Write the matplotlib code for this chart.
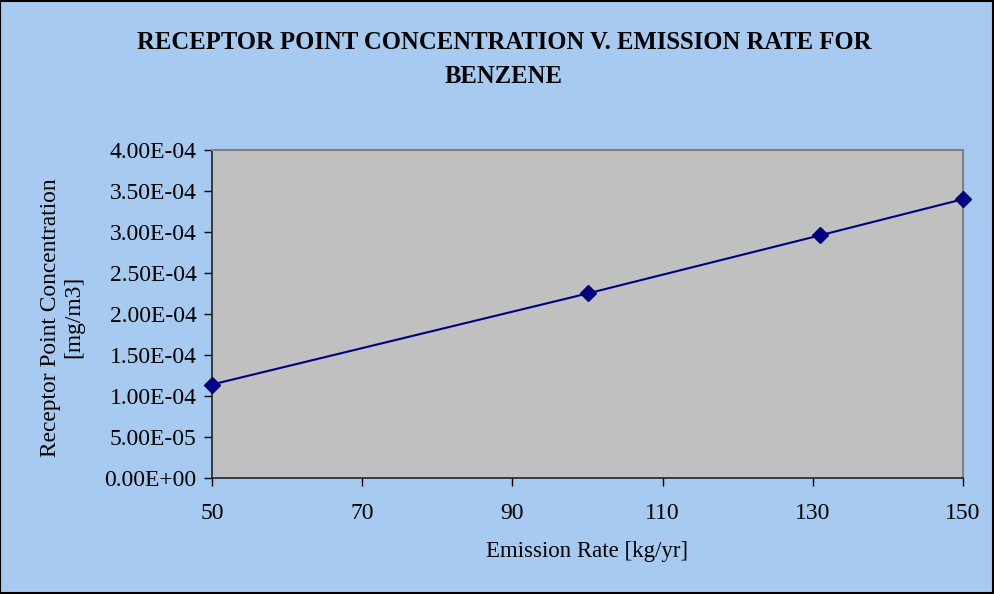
import matplotlib
matplotlib.use("Agg")
import matplotlib.pyplot as plt
from matplotlib.ticker import FuncFormatter

# data
emission_rate = [50, 100, 131, 150]
concentration = [1.14e-4, 2.25e-4, 2.96e-4, 3.40e-4]
xticks = [50, 70, 90, 110, 130, 150]
yticks = [0, 5e-5, 1e-4, 1.5e-4, 2e-4, 2.5e-4, 3e-4, 3.5e-4, 4e-4]

plt.rcParams['font.family'] = ['Liberation Serif', 'DejaVu Serif']

fig = plt.figure(figsize=(9.94, 5.94), dpi=100, facecolor='#A6CAF0')
ax = fig.add_axes([0.2133, 0.1953, 0.7555, 0.5522])
ax.set_facecolor('#C0C0C0')

ax.plot(emission_rate, concentration, color='#000080', marker='D', markersize=8.5,
        linewidth=1.5, clip_on=False, zorder=3)

ax.set_xlim(50, 150)
ax.set_ylim(0, 4e-4)
ax.set_xticks(xticks)
ax.set_yticks(yticks)
ax.yaxis.set_major_formatter(FuncFormatter(lambda v, p: f"{v:.2E}"))
ax.tick_params(direction='out', length=6, width=1, labelsize=17, colors='black', pad=5)
ax.tick_params(axis='x', pad=12)

for s in ['left', 'bottom']:
    ax.spines[s].set_color('#222222')
    ax.spines[s].set_linewidth(1.2)
for s in ['top', 'right']:
    ax.spines[s].set_color('#808080')
    ax.spines[s].set_linewidth(1.5)

fig.text(0.507, 0.929, "RECEPTOR POINT CONCENTRATION V. EMISSION RATE FOR", ha='center',
         va='center', fontsize=17.7, fontweight='bold')
fig.text(0.507, 0.872, "BENZENE", ha='center', va='center', fontsize=17.7, fontweight='bold')

ax.set_xlabel("Emission Rate [kg/yr]", fontsize=16.5, va='center')
ax.xaxis.set_label_coords(0.4993, -0.2226)
ax.set_ylabel("Receptor Point Concentration\n[mg/m3]", fontsize=16.8, va='center',
              linespacing=1.15)
ax.yaxis.set_label_coords(-0.2, 0.49)

# outer frame
fig.patches.append(plt.Rectangle((0.0005, 0.001), 0.998, 0.997, transform=fig.transFigure,
                                 fill=False, edgecolor='black', linewidth=1.5))

fig.savefig("out.png", dpi=100, facecolor=fig.get_facecolor())
